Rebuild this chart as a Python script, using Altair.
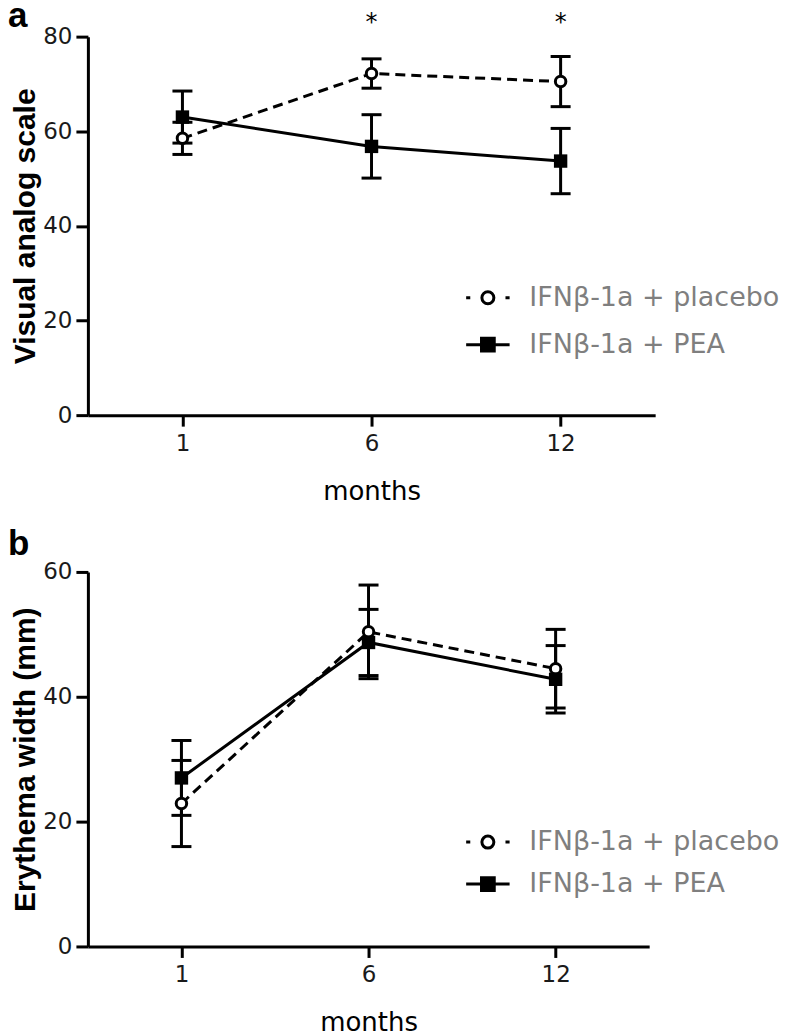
import altair as alt
import pandas as pd

MONTHS = ["1", "6", "12"]
GROUPS = ["IFNβ-1a + placebo", "IFNβ-1a + PEA"]

# Panel a: Visual analog scale (mean, error)
vas_placebo_mean = [58.5, 72.2, 70.5]
vas_placebo_err = [3.4, 3.1, 5.3]
vas_pea_mean = [63.0, 56.8, 53.7]
vas_pea_err = [5.5, 6.7, 6.9]
vas_significant = ["6", "12"]
vas_ticks = [0, 20, 40, 60, 80]

# Panel b: Erythema width (mm)
ery_placebo_mean = [22.9, 50.4, 44.5]
ery_placebo_err = [6.9, 7.5, 6.3]
ery_pea_mean = [27.0, 48.7, 42.8]
ery_pea_err = [6.0, 5.3, 5.4]
ery_significant = []
ery_ticks = [0, 20, 40, 60]

# legend glyphs (line + marker), unit coordinates
PATH_PLACEBO = "M-2.9,0H-2.35M2.35,0H2.9M-0.8,0A0.8,0.8,0,1,1,0.8,0A0.8,0.8,0,1,1,-0.8,0Z"
PATH_PEA = "M-2.9,0H2.9M-0.85,-0.85H0.85V0.85H-0.85Z"


def table(pm, pe, am, ae):
    rows = []
    for g, means, errs in [(GROUPS[0], pm, pe), (GROUPS[1], am, ae)]:
        for m, v, e in zip(MONTHS, means, errs):
            rows.append({"month": m, "group": g, "value": v,
                         "lo": round(v - e, 2), "hi": round(v + e, 2)})
    return pd.DataFrame(rows)


def panel(df, letter, ytitle, ymax, yvals, w, h, sig, letter_y, lx, ly, rowpad):
    x = alt.X("month:O", sort=MONTHS,
              scale=alt.Scale(type="point", domain=MONTHS, padding=0.5),
              axis=alt.Axis(title="months", labelAngle=0))
    yaxis = alt.Axis(title=ytitle, values=yvals)
    yscale = alt.Scale(domain=[0, ymax], nice=False, zero=True)

    def Y(field):
        return alt.Y(f"{field}:Q", scale=yscale, axis=yaxis, title=ytitle)

    base = alt.Chart(df)
    placebo = base.transform_filter(alt.datum.group == GROUPS[0])
    pea = base.transform_filter(alt.datum.group == GROUPS[1])

    line_placebo = placebo.mark_line(color="black", strokeWidth=3, strokeDash=[10, 6]).encode(
        x=x, y=Y("value"))
    line_pea = pea.mark_line(color="black", strokeWidth=3).encode(x=x, y=Y("value"))
    bars = base.mark_rule(color="black", strokeWidth=3).encode(
        x=x, y=Y("lo"), y2="hi:Q")
    cap_lo = base.mark_tick(color="black", thickness=3, size=20, orient="horizontal",
                            opacity=1).encode(x=x, y=Y("lo"))
    cap_hi = base.mark_tick(color="black", thickness=3, size=20, orient="horizontal",
                            opacity=1).encode(x=x, y=Y("hi"))
    circ = placebo.mark_point(shape="circle", filled=True, fill="white", stroke="black",
                              strokeWidth=3, size=110, opacity=1).encode(x=x, y=Y("value"))
    sq = pea.mark_point(shape="square", filled=True, color="black", size=180,
                        opacity=1).encode(x=x, y=Y("value"))

    legend = alt.Legend(title=None, orient="none", legendX=lx, legendY=ly,
                        direction="vertical", padding=0, symbolSize=225,
                        symbolStrokeWidth=3, symbolOpacity=1,
                        labelFont="DejaVu Sans", labelFontSize=27,
                        labelColor="#7f7f7f", labelLimit=0, labelOffset=28,
                        rowPadding=rowpad)
    leg = base.mark_point(filled=True, opacity=0, strokeWidth=3).encode(
        x=x, y=Y("value"),
        shape=alt.Shape("group:N",
                        scale=alt.Scale(domain=GROUPS, range=[PATH_PLACEBO, PATH_PEA]),
                        legend=legend),
        fill=alt.Fill("group:N",
                      scale=alt.Scale(domain=GROUPS, range=["white", "black"]),
                      legend=legend),
        stroke=alt.Stroke("group:N",
                          scale=alt.Scale(domain=GROUPS, range=["black", "black"]),
                          legend=legend))

    layers = [line_placebo, line_pea, bars, cap_lo, cap_hi, circ, sq, leg]
    if sig:
        stars = alt.Chart(pd.DataFrame({"month": sig, "mark": ["*"] * len(sig)})).mark_text(
            font="DejaVu Sans", fontSize=24, baseline="alphabetic", color="black").encode(
            x=x, y=alt.value(-7), text="mark:N")
        layers.append(stars)
    letter_layer = alt.Chart(pd.DataFrame({"t": [letter]})).mark_text(
        font="Liberation Sans", fontWeight="bold", fontSize=35, align="left",
        baseline="alphabetic", color="black").encode(
        x=alt.value(-80), y=alt.value(letter_y), text="t:N")
    layers.append(letter_layer)
    return alt.layer(*layers).properties(width=w, height=h)


pa = panel(table(vas_placebo_mean, vas_placebo_err, vas_pea_mean, vas_pea_err),
           "a", "Visual analog scale", 80, vas_ticks, 568, 379, vas_significant,
           -10, 387, 248, 19)
pb = panel(table(ery_placebo_mean, ery_placebo_err, ery_pea_mean, ery_pea_err),
           "b", "Erythema width (mm)", 60, ery_ticks, 562, 375, ery_significant,
           -17, 387, 257, 14)

chart = alt.vconcat(pa, pb, spacing=23).resolve_scale(
    x="independent", y="independent", shape="independent", fill="independent",
    stroke="independent"
).properties(
    padding={"left": 0, "top": -10, "right": 0, "bottom": 0}
).configure_view(stroke=None).configure_axis(
    grid=False, domainColor="black", domainWidth=3, tickColor="black", tickWidth=3,
    labelFont="DejaVu Sans", labelFontSize=23, labelColor="#1a1a1a",
    titleFont="Liberation Sans", titleFontSize=30, titleFontWeight="bold",
    titleColor="black"
).configure_axisX(
    tickSize=11, labelPadding=6, titleFont="DejaVu Sans", titleFontWeight="normal",
    titleFontSize=26, titlePadding=23
).configure_axisY(
    tickSize=12, labelPadding=4, titlePadding=2
)

chart.save("out.html", embed_options={"renderer": "svg", "actions": False})
